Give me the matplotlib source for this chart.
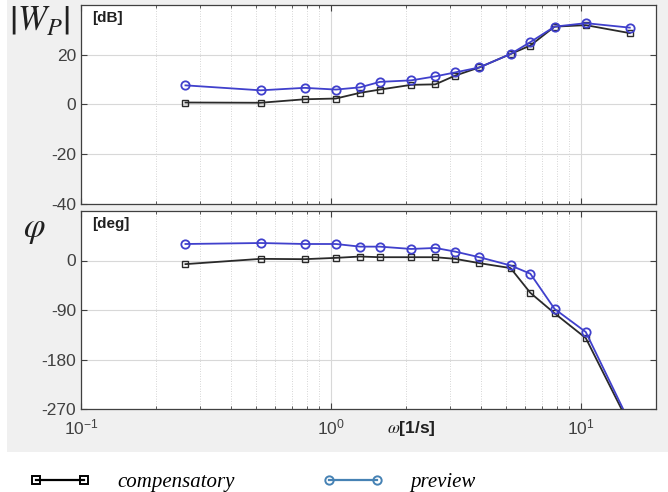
import numpy as np
import matplotlib
matplotlib.use("Agg")
from matplotlib import pyplot as plt
from matplotlib.lines import Line2D
from matplotlib.patches import Rectangle
from matplotlib.ticker import LogLocator, NullFormatter

plt.rcParams['font.family'] = ['Liberation Sans', 'DejaVu Sans']
plt.rcParams['mathtext.fontset'] = 'stix'
plt.rcParams['axes.unicode_minus'] = False

# frequencies (multiples of pi/12)
w = np.pi / 12 * np.array([1, 2, 3, 4, 5, 6, 8, 10, 12, 15, 20, 24, 30, 40, 60])

mag_comp = [0.8, 0.7, 2.1, 2.4, 4.7, 6.0, 7.9, 8.1, 11.6, 14.9, 20.3, 23.7, 31.3, 31.9, 28.7]
mag_prev = [7.7, 5.7, 6.7, 6.0, 6.9, 9.1, 9.7, 11.3, 12.9, 14.9, 20.3, 25.1, 31.3, 32.7, 30.9]

ph_comp = [-6.6, 3.0, 2.4, 4.8, 7.2, 6.0, 6.0, 6.0, 3.0, -4.8, -13.8, -58.8, -96, -141, -300]
ph_prev = [30, 31.8, 30, 30, 25.2, 25.2, 21, 22.8, 16.2, 6, -9, -24, -88, -130, -295]

mag_ticks = [-40, -20, 0, 20]
ph_ticks = [-270, -180, -90, 0]

fig = plt.figure(figsize=(6.68, 4.92), dpi=100, facecolor='white')
fig.patches.append(Rectangle((7 / 668, 40 / 492), 1, 1, transform=fig.transFigure,
                             facecolor='#f0f0f0', edgecolor='none', zorder=-10))

ax1 = fig.add_axes([81 / 668, 1 - 204 / 492, 575 / 668, 199 / 492])
ax2 = fig.add_axes([81 / 668, 1 - 409 / 492, 575 / 668, 198 / 492])

blue = '#4040cc'
dark = '#2a2a2a'

for ax in (ax1, ax2):
    ax.set_xscale('log')
    ax.set_xlim(0.1, 20)
    ax.xaxis.set_minor_locator(LogLocator(base=10, subs=np.arange(2, 10)))
    ax.xaxis.set_minor_formatter(NullFormatter())
    ax.grid(True, which='major', color='#d8d8d8', linewidth=0.8)
    ax.grid(True, which='minor', axis='x', color='#c8c8c8', linestyle=(0, (1, 2)), linewidth=0.6)
    ax.tick_params(which='both', direction='in', top=True, right=True,
                   colors='#404040', labelsize=12.5, labelcolor='#404040')
    ax.tick_params(which='major', length=4)
    ax.tick_params(which='minor', length=2.5)
    for s in ax.spines.values():
        s.set_color('#404040')
        s.set_linewidth(0.9)

ax1.plot(w, mag_comp, '-s', color=dark, mfc='none', mec=dark, ms=5, lw=1.3)
ax1.plot(w, mag_prev, '-o', color=blue, mfc='none', mec=blue, ms=6, lw=1.3, mew=1.3)
ax1.set_ylim(-40, 40)
ax1.set_yticks(mag_ticks)
ax1.tick_params(axis='x', labelbottom=False)
ax1.text(0.02, 0.97, '[dB]', transform=ax1.transAxes, fontsize=11,
         fontweight='bold', va='top', ha='left', color='#202020')

ax2.plot(w, ph_comp, '-s', color=dark, mfc='none', mec=dark, ms=5, lw=1.3)
ax2.plot(w, ph_prev, '-o', color=blue, mfc='none', mec=blue, ms=6, lw=1.3, mew=1.3)
ax2.set_ylim(-270, 90)
ax2.set_yticks(ph_ticks)
ax2.tick_params(axis='x', pad=6)
ax2.text(0.02, 0.97, '[deg]', transform=ax2.transAxes, fontsize=11,
         fontweight='bold', va='top', ha='left', color='#202020')

fig.text(40 / 668, 1 - 21 / 492, r'$\left|W_{P}\right|$', fontsize=25,
         ha='center', va='center', color='#202020')
fig.text(34 / 668, 1 - 230 / 492, r'$\varphi$', fontsize=25,
         ha='center', va='center', color='#202020')
fig.text(411 / 668, 1 - 428 / 492, r'$\omega$[1/s]', fontsize=12.5, fontweight='bold',
         ha='center', va='center', color='#202020')

handles = [
    Line2D([], [], color='black', marker='s', mfc='none', mec='black', ms=6, lw=1.6, mew=1.4),
    Line2D([], [], color='#4682b4', marker='o', mfc='none', mec='#4682b4', ms=6, lw=1.6, mew=1.4),
]
fig.legend(handles, ['compensatory', 'preview'], ncol=2, numpoints=2, frameon=False,
           loc='center left', bbox_to_anchor=(30 / 668, 10 / 492),
           prop={'family': 'Liberation Serif', 'style': 'italic', 'size': 15},
           handlelength=2.9, handletextpad=1.3, columnspacing=4.2,
           borderpad=0, borderaxespad=0)

fig.savefig('out.png', dpi=100, facecolor=fig.get_facecolor())
